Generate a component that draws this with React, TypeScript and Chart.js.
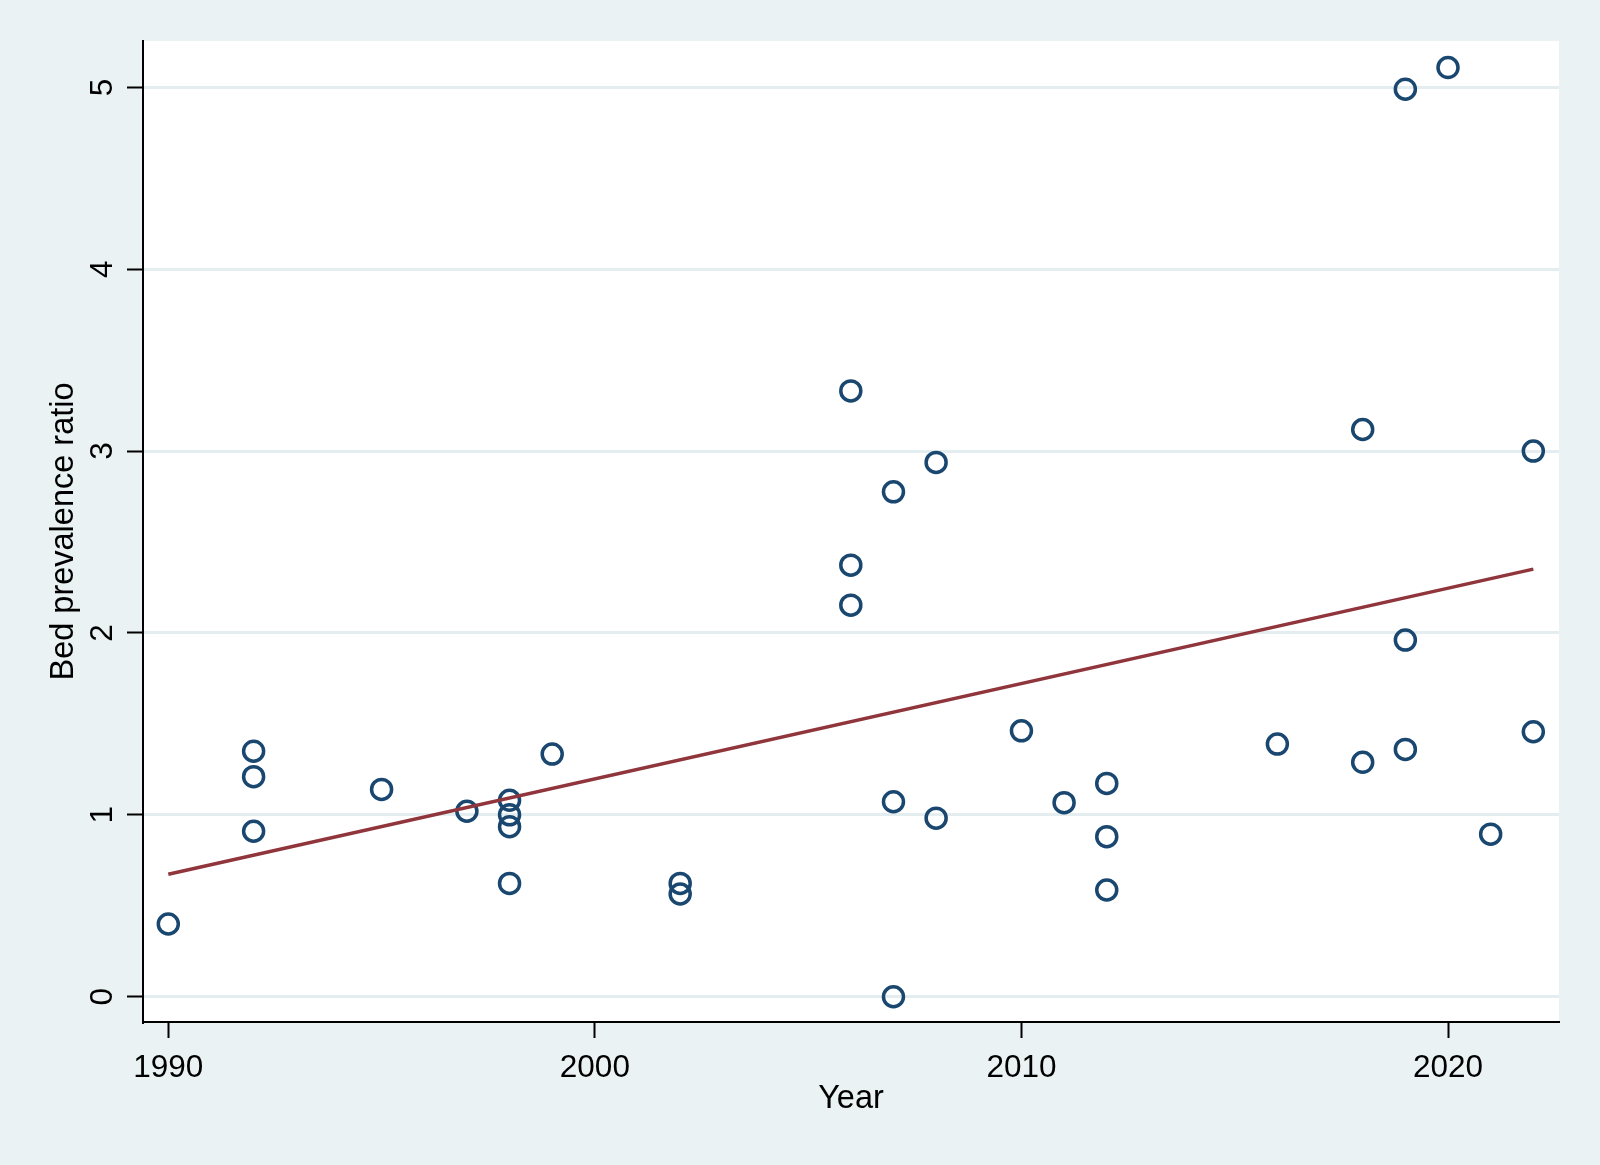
import React, { useEffect, useRef } from "react";
import { Chart, registerables } from "chart.js";

Chart.register(...registerables);

// Study year of each observation
const years: number[] = [
  1990,
  1992, 1992, 1992,
  1995,
  1997,
  1998, 1998, 1998, 1998,
  1999,
  2002, 2002,
  2006, 2006, 2006,
  2007, 2007, 2007,
  2008, 2008,
  2010,
  2011,
  2012, 2012, 2012,
  2016,
  2018, 2018,
  2019, 2019, 2019,
  2020,
  2021,
  2022, 2022,
];

// Bed prevalence ratio of each observation
const ratios: number[] = [
  0.40,
  1.35, 1.21, 0.91,
  1.14,
  1.02,
  1.08, 1.00, 0.935, 0.623,
  1.334,
  0.623, 0.565,
  3.331, 2.373, 2.153,
  2.776, 1.072, 0.0,
  2.938, 0.982,
  1.462,
  1.067,
  1.173, 0.880, 0.587,
  1.389,
  3.119, 1.289,
  4.99, 1.961, 1.360,
  5.109,
  0.894,
  3.0, 1.457,
];

// Linear fit line end points
const fitYears: number[] = [1990, 2022];
const fitValues: number[] = [0.673, 2.351];

const xTicks: number[] = [1990, 2000, 2010, 2020];
const yTicks: number[] = [0, 1, 2, 3, 4, 5];

const xTitle = "Year";
const yTitle = "Bed prevalence ratio";

const BG = "#EAF2F3";
const NAVY = "#1A476F";
const MAROON = "#90353B";
const TICK_FONT = "31.5px 'Liberation Sans', Arial, Helvetica, sans-serif";
const TITLE_FONT = "32.5px 'Liberation Sans', Arial, Helvetica, sans-serif";

const stataPlugin = {
  id: "stataDecor",
  beforeDraw(chart: any) {
    const { ctx, chartArea } = chart;
    ctx.save();
    ctx.fillStyle = BG;
    ctx.fillRect(0, 0, chart.width, chart.height);
    ctx.fillStyle = "#FFFFFF";
    ctx.fillRect(
      chartArea.left,
      chartArea.top,
      chartArea.right - chartArea.left,
      chartArea.bottom - chartArea.top
    );
    ctx.restore();
  },
  afterDraw(chart: any) {
    const { ctx, chartArea } = chart;
    const xs = chart.scales.x;
    const ys = chart.scales.y;
    ctx.save();
    ctx.fillStyle = "#000000";
    // x tick labels
    ctx.font = TICK_FONT;
    ctx.textAlign = "center";
    ctx.textBaseline = "alphabetic";
    xTicks.forEach((v) => {
      ctx.fillText(String(v), xs.getPixelForValue(v), 1077);
    });
    // y tick labels (rotated)
    yTicks.forEach((v) => {
      const py = ys.getPixelForValue(v);
      ctx.save();
      ctx.translate(112, py);
      ctx.rotate(-Math.PI / 2);
      ctx.textAlign = "center";
      ctx.textBaseline = "alphabetic";
      ctx.fillText(String(v), 0, 0);
      ctx.restore();
    });
    // x title
    ctx.font = TITLE_FONT;
    ctx.textAlign = "center";
    ctx.fillText(xTitle, (chartArea.left + chartArea.right) / 2, 1108);
    // y title
    ctx.save();
    ctx.translate(73, (chartArea.top + chartArea.bottom) / 2);
    ctx.rotate(-Math.PI / 2);
    ctx.textAlign = "center";
    ctx.textBaseline = "alphabetic";
    ctx.fillText(yTitle, 0, 0);
    ctx.restore();
    ctx.restore();
  },
};

export default function App() {
  const canvasRef = useRef<HTMLCanvasElement | null>(null);

  useEffect(() => {
    const canvas = canvasRef.current;
    if (!canvas) return;
    const points = years.map((y, i) => ({ x: y, y: ratios[i] }));
    const fit = fitYears.map((y, i) => ({ x: y, y: fitValues[i] }));
    const chart = new Chart(canvas, {
      type: "scatter",
      data: {
        datasets: [
          {
            type: "line",
            label: "Fitted values",
            data: fit,
            borderColor: MAROON,
            borderWidth: 3.5,
            pointRadius: 0,
            fill: false,
            showLine: true,
            order: 0,
          } as any,
          {
            label: "Bed prevalence ratio",
            data: points,
            pointStyle: "circle",
            pointRadius: 10,
            pointBorderWidth: 3.5,
            pointBackgroundColor: "rgba(0,0,0,0)",
            pointBorderColor: NAVY,
            borderColor: NAVY,
            backgroundColor: "rgba(0,0,0,0)",
            order: 1,
          } as any,
        ],
      },
      options: {
        responsive: false,
        animation: false,
        devicePixelRatio: 1,
        layout: { padding: { left: 127, right: 41, top: 41, bottom: 127 } },
        plugins: {
          legend: { display: false },
          tooltip: { enabled: false },
          title: { display: false },
        },
        scales: {
          x: {
            type: "linear",
            min: 1989.407,
            max: 2022.602,
            afterBuildTicks: (scale: any) => {
              scale.ticks = xTicks.map((v) => ({ value: v }));
            },
            ticks: { display: false },
            grid: {
              display: true,
              drawOnChartArea: false,
              drawTicks: true,
              tickLength: 16,
              tickColor: "#000000",
              tickWidth: 2,
            },
            border: { display: true, color: "#000000", width: 2 },
            title: { display: false },
          },
          y: {
            type: "linear",
            min: -0.139,
            max: 5.255,
            afterBuildTicks: (scale: any) => {
              scale.ticks = yTicks.map((v) => ({ value: v }));
            },
            ticks: { display: false },
            grid: {
              display: true,
              drawOnChartArea: true,
              color: "#E4EEF0",
              lineWidth: 3,
              drawTicks: true,
              tickLength: 16,
              tickColor: "#000000",
              tickWidth: 2,
            },
            border: { display: true, color: "#000000", width: 2 },
            title: { display: false },
          },
        },
      },
      plugins: [stataPlugin],
    } as any);
    return () => {
      chart.destroy();
    };
  }, []);

  return (
    <div
      style={{
        position: "fixed",
        left: 0,
        top: 0,
        width: 1600,
        height: 1165,
        background: BG,
      }}
    >
      <canvas
        ref={canvasRef}
        width={1600}
        height={1165}
        style={{ display: "block", width: 1600, height: 1165 }}
      />
    </div>
  );
}
